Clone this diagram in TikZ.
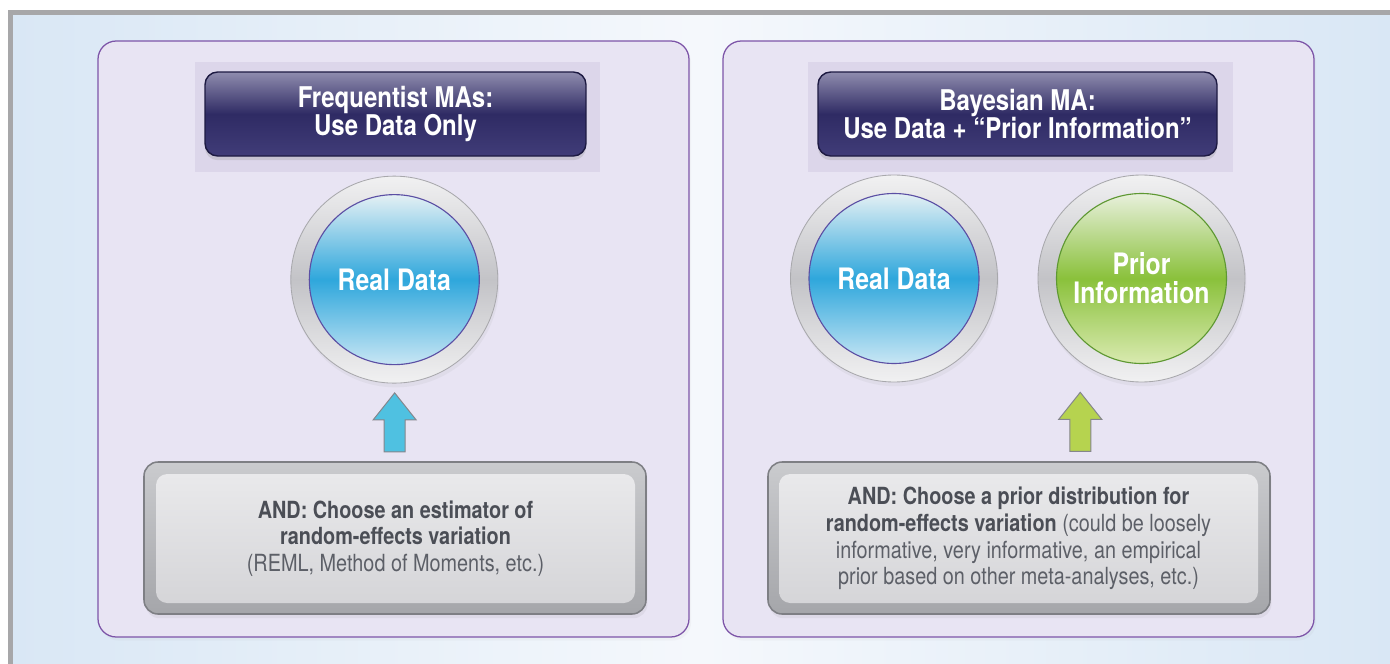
\documentclass[tikz,border=0pt]{standalone}
\usepackage{fontspec}
\setmainfont{TeX Gyre Heros}[FakeStretch=0.84]
\usetikzlibrary{positioning,calc,shadows}

\definecolor{framegray}{HTML}{A7A7A9}
\definecolor{skyleft}{HTML}{D9E7F5}
\definecolor{skymid}{HTML}{F5F8FC}
\definecolor{panelfill}{HTML}{E8E4F3}
\definecolor{paneledge}{HTML}{7D55A8}
\definecolor{hdrback}{HTML}{DCD6EA}
\definecolor{navytop}{HTML}{8F8CAE}
\definecolor{navy}{HTML}{2F2B64}
\definecolor{navybot}{HTML}{403C78}
\definecolor{navyedge}{HTML}{1D1A42}
\definecolor{ringtop}{HTML}{F1F1F2}
\definecolor{ringmid}{HTML}{C3C3C7}
\definecolor{ringedge}{HTML}{A8A8AC}
\definecolor{bluetop}{HTML}{E4F0F4}
\definecolor{bluemid}{HTML}{2FA7DC}
\definecolor{bluebot}{HTML}{C8E6F4}
\definecolor{blueedge}{HTML}{5B4FA4}
\definecolor{greentop}{HTML}{E8F0DC}
\definecolor{greenmid}{HTML}{8AC13B}
\definecolor{greenbot}{HTML}{D9EAB0}
\definecolor{greenedge}{HTML}{5E9832}
\definecolor{cyanarrow}{HTML}{4FC1E1}
\definecolor{limearrow}{HTML}{B6D34F}
\definecolor{arrowedge}{HTML}{85868C}
\definecolor{boxtop}{HTML}{CACBCE}
\definecolor{boxbot}{HTML}{A5A6AA}
\definecolor{boxedge}{HTML}{7E7F84}
\definecolor{cardtop}{HTML}{E9E9EB}
\definecolor{cardbot}{HTML}{D5D5D8}
\definecolor{inkbold}{HTML}{4B4E56}
\definecolor{inklight}{HTML}{5C5F67}

\newcommand{\pxu}{0.025cm}
\newcommand{\keyphrase}[1]{\textcolor{inkbold}{\bfseries #1}}

\begin{document}
\begin{tikzpicture}[
  x=0.025cm, y=-0.025cm,
  panel/.style={
     draw=paneledge, fill=panelfill, line width=0.9pt,
     rounded corners=13pt,
     minimum width=591*\pxu, minimum height=596*\pxu,
     drop shadow={opacity=0.05, shadow xshift=1.5pt, shadow yshift=-2.5pt}
  },
  hdrpad/.style={fill=hdrback, inner sep=0pt, minimum height=110*\pxu},
  hdr/.style={
     draw=navyedge, line width=1pt, rounded corners=9pt,
     top color=navytop, bottom color=navybot, middle color=navy,
     text=white, font=\fontsize{20.3}{20}\selectfont\bfseries,
     minimum height=84*\pxu, align=center,
     drop shadow={opacity=0.22, shadow xshift=0pt, shadow yshift=-3pt}
  },
  ring/.style={
     circle, draw=ringedge, line width=0.6pt, minimum size=207*\pxu,
     top color=ringtop, bottom color=ringtop, middle color=ringmid,
     drop shadow={opacity=0.08, shadow xshift=1pt, shadow yshift=-3pt}
  },
  ball/.style={
     circle, line width=0.8pt, minimum size=170*\pxu, inner sep=0pt,
     text=white, align=center, font=\fontsize{21}{20.6}\selectfont\bfseries
  },
  blueball/.style={ball, draw=blueedge,
     top color=bluetop, bottom color=bluebot, middle color=bluemid},
  greenball/.style={ball, draw=greenedge,
     top color=greentop, bottom color=greenbot, middle color=greenmid},
  tray/.style={
     draw=boxedge, line width=1.1pt, rounded corners=10pt,
     top color=boxtop, bottom color=boxbot,
     minimum width=502*\pxu, minimum height=152*\pxu,
     drop shadow={opacity=0.10, shadow xshift=1pt, shadow yshift=-3pt}
  },
  card/.style={
     rounded corners=8pt, top color=cardtop, bottom color=cardbot,
     minimum width=479*\pxu, minimum height=129*\pxu, align=center,
     text=inklight, font=\fontsize{16.8}{18.9}\selectfont
  },
  pics/uparrow/.style={code={
     \draw[pic actions] (0,-29.5) -- (21.5,-2.5) -- (10.5,-2.5) -- (10.5,29.5)
        -- (-10.5,29.5) -- (-10.5,-2.5) -- (-21.5,-2.5) -- cycle;
  }}
]

\useasboundingbox (0,0) rectangle (1390,664);
\fill[framegray] (8,10) rectangle (1390,664);
\shade[left color=skyleft, right color=skyleft, middle color=skymid]
   (13,15) rectangle (1390,664);

\node[panel] (lpanel) at (393.5,339) {};
\node[panel] (rpanel) at (1018.5,339) {};

% headers
\node[hdrpad, minimum width=405*\pxu] (lpad) at (397.5,117) {};
\node[hdrpad, minimum width=425*\pxu] (rpad) at (1020.5,117) {};
\node[hdr, minimum width=381*\pxu] (lhdr) at (395.5,114) {Frequentist MAs:\\Use Data Only};
\node[hdr, minimum width=399*\pxu] (rhdr) at (1017.5,114) {Bayesian MA:\\Use Data + “Prior Information”};

% data and prior
\node[ring, below=0.475cm of lhdr.south, anchor=north, xshift=-0.03cm] (lring) {};
\node[blueball] (lball) at (lring) {Real Data};
\node[ring] (rring) at (894,278.5) {};
\node[blueball] (rball) at (rring) {Real Data};
\node[ring] (pring) at (1141.5,278.5) {};
\node[greenball] (pball) at (pring) {Prior\\Information};

% estimator / prior choice
\node[tray] (ltray) at (395,538) {};
\node[card] (lcard) at (395.5,538.5) {\keyphrase{AND: Choose an estimator of}\\
  \keyphrase{random-effects variation}\\(REML, Method of Moments, etc.)};
\node[tray] (rtray) at (1019,538) {};
\node[card] (rcard) at (1018.5,538.5) {\keyphrase{AND: Choose a prior distribution for}\\
  \keyphrase{random-effects variation} (could be loosely\\
  informative, very informative, an empirical\\prior based on other meta-analyses, etc.)};

\pic[fill=cyanarrow, draw=arrowedge, line width=0.7pt] at ($(lring.south)!0.5!(ltray.north)$) {uparrow};
\pic[fill=limearrow, draw=arrowedge, line width=0.7pt] at ($(pring.south)!0.5!(rtray.north)$) {uparrow};

\end{tikzpicture}
\end{document}
